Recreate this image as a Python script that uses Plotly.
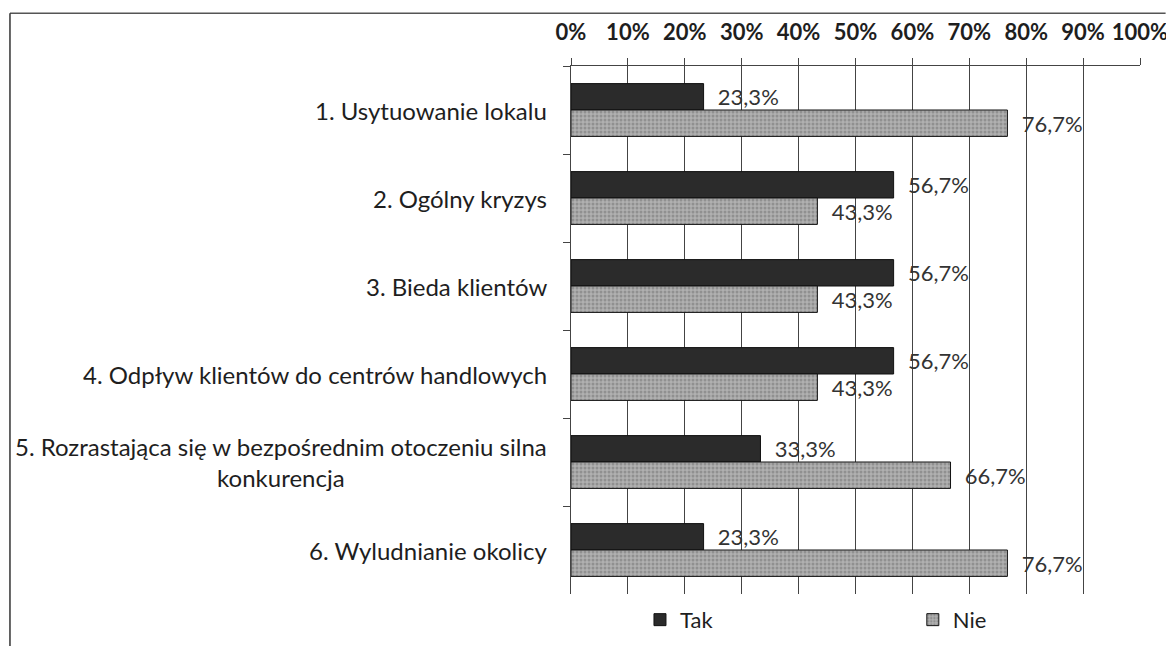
import plotly.graph_objects as go

# Survey answers (percent) for each reason
categories = [
    "1. Usytuowanie lokalu",
    "2. Ogólny kryzys",
    "3. Bieda klientów ",
    "4. Odpływ klientów do centrów handlowych",
    "5. Rozrastająca się w bezpośrednim otoczeniu silna<br>konkurencja",
    "6. Wyludnianie okolicy",
]
tak = [23.3, 56.7, 56.7, 56.7, 33.3, 23.3]
nie = [76.7, 43.3, 43.3, 43.3, 66.7, 76.7]
x_ticks = [0, 10, 20, 30, 40, 50, 60, 70, 80, 90, 100]


def pl(values):
    # polish decimal comma, a little padding like Excel's label offset
    return ["\u00a0\u00a0" + f"{v:.1f}%".replace(".", ",") for v in values]


label_font = dict(family="Lato", size=24, color="#1e1e1e")
value_font = dict(family="Lato", size=22.5, color="#333333")

fig = go.Figure()
fig.add_trace(go.Bar(
    name="Tak", y=categories, x=tak, orientation="h",
    marker=dict(color="#2b2b2b", line=dict(color="#111111", width=1)),
    text=pl(tak), textposition="outside", cliponaxis=False,
    textfont=value_font, legend="legend", showlegend=True,
))
fig.add_trace(go.Bar(
    name="Nie", y=categories, x=nie, orientation="h",
    marker=dict(
        color="#a3a3a3",
        line=dict(color="#111111", width=1),
        pattern=dict(shape=".", size=4, solidity=0.45,
                     fgcolor="#707070", bgcolor="#b0b0b0"),
    ),
    text=pl(nie), textposition="outside", cliponaxis=False,
    textfont=value_font, legend="legend2", showlegend=True,
))

# category labels as annotations so the two-line one is centred like in Excel
for cat in categories:
    fig.add_annotation(
        x=0, xref="paper", y=cat, yref="y", text=cat.strip(),
        showarrow=False, xanchor="right", align="center",
        xshift=-22, font=label_font,
    )

# outer frame (only top and left edges are visible in the scan)
fig.add_shape(type="line", xref="paper", yref="paper",
              x0=-0.986, x1=1.045, y0=1.100, y1=1.100,
              line=dict(color="#555555", width=1.5))
fig.add_shape(type="line", xref="paper", yref="paper",
              x0=-0.986, x1=-0.986, y0=1.100, y1=-0.110,
              line=dict(color="#333333", width=1.5))

legend_common = dict(
    orientation="h", xref="container", yref="container",
    y=0.041, yanchor="middle", xanchor="left",
    font=dict(family="Lato", size=22, color="#1e1e1e"),
    bgcolor="rgba(0,0,0,0)",
)

# the page body adds 8px, so the figure is 8px smaller than the window
fig.update_layout(
    width=1166, height=638,
    margin=dict(l=563, r=34, t=58, b=52, autoexpand=False),
    paper_bgcolor="white", plot_bgcolor="white",
    showlegend=True,
    barmode="group", bargap=0.4, bargroupgap=0.0,
    font=dict(family="Lato", color="#222222"),
    xaxis=dict(
        side="top", range=[0, 100], tickvals=x_ticks,
        ticktext=[f"{t}%" for t in x_ticks],
        tickfont=dict(family="Lato", size=22, weight="bold", color="#1e1e1e"),
        ticklabelstandoff=9,
        showgrid=True, gridcolor="#444444", gridwidth=1,
        showline=True, linecolor="#444444", linewidth=1,
        ticks="outside", ticklen=7, tickcolor="#444444",
        zeroline=False,
    ),
    yaxis=dict(
        autorange="reversed", showticklabels=False,
        showline=True, linecolor="#444444", linewidth=1,
        ticks="outside", ticklen=7, tickcolor="#444444",
        tickson="boundaries", showgrid=False,
    ),
    legend=dict(x=0.542, **legend_common),
    legend2=dict(x=0.776, **legend_common),
)

fig.write_html("out.html")
